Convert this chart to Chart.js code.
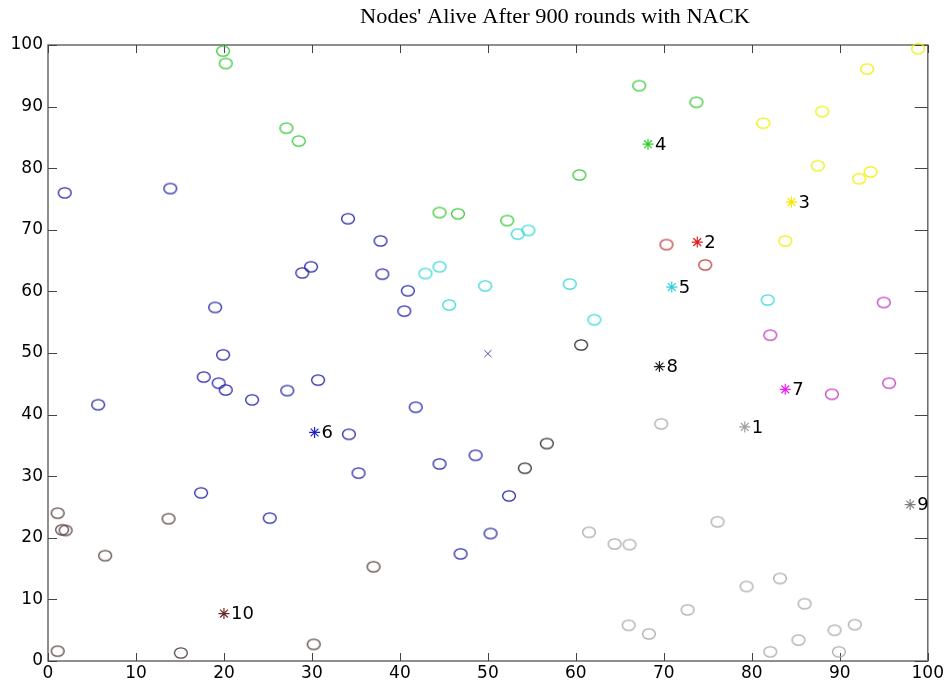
<!DOCTYPE html>
<html><head><meta charset="utf-8">
<script src="https://cdn.jsdelivr.net/npm/chart.js@4.4.0/dist/chart.umd.min.js"></script>
<style>html,body{margin:0;padding:0;background:#fff;}canvas{display:block;}</style>
</head><body>
<canvas id="c" width="946" height="689"></canvas>
<script>
// ---------------- data ----------------
const titleText = "Nodes' Alive After 900 rounds with NACK";
const tickValues = [0, 10, 20, 30, 40, 50, 60, 70, 80, 90, 100];

const cluster1Nodes = [[69.7,38.5],[61.5,20.9],[64.4,19.0],[66.1,18.9],[76.1,22.6],[66.0,5.8],[68.3,4.4],[72.7,8.3],[79.4,12.1],[83.2,13.4],[86.0,9.3],[82.1,1.5],[85.3,3.4],[89.4,5.0],[91.7,5.9],[89.9,1.5]];
const cluster2Nodes = [[70.3,67.6],[74.7,64.3]];
const cluster3Nodes = [[81.3,87.3],[88.0,89.2],[93.1,96.1],[98.9,99.4],[87.5,80.4],[92.2,78.3],[93.5,79.4],[83.8,68.2]];
const cluster4Nodes = [[19.9,99.0],[20.2,97.0],[27.1,86.5],[28.5,84.4],[60.4,78.9],[44.5,72.8],[46.6,72.6],[52.2,71.5],[67.2,93.4],[73.7,90.7]];
const cluster5Nodes = [[53.4,69.3],[54.6,69.9],[42.9,62.9],[44.5,64.0],[45.6,57.8],[49.7,60.9],[59.3,61.2],[62.1,55.4],[81.8,58.6]];
const cluster6Nodes = [[1.9,76.0],[13.9,76.7],[34.1,71.8],[37.8,68.2],[38.0,62.8],[28.9,63.0],[29.9,64.0],[40.9,60.1],[40.5,56.8],[5.7,41.6],[19.0,57.4],[19.9,49.7],[17.7,46.1],[19.4,45.1],[20.2,44.0],[23.2,42.4],[27.2,43.9],[30.7,45.6],[41.8,41.2],[34.2,36.8],[48.6,33.4],[35.3,30.5],[44.5,32.0],[52.4,26.8],[50.3,20.7],[46.9,17.4],[17.4,27.3],[25.2,23.2]];
const cluster7Nodes = [[95.0,58.2],[82.1,52.9],[89.1,43.3],[95.6,45.1]];
const cluster8Nodes = [[60.6,51.3],[56.7,35.3],[54.2,31.3]];
const cluster10Nodes = [[1.1,24.0],[1.6,21.3],[2.0,21.2],[6.5,17.1],[13.7,23.1],[1.1,1.6],[15.1,1.3],[30.2,2.7],[37.0,15.3]];

const headLabels = ['1','2','3','4','5','6','7','8','9','10'];
const headX = [79.2, 73.8, 84.5, 68.2, 70.9, 30.3, 83.8, 69.5, 98.0, 20.0];
const headY = [38.0, 68.0, 74.5, 83.9, 60.7, 37.1, 44.1, 47.8, 25.4, 7.7];
const sinkX = [50.0];
const sinkY = [49.9];

// ---------------- styles ----------------
const nodeSets = [cluster1Nodes, cluster2Nodes, cluster3Nodes, cluster4Nodes, cluster5Nodes, cluster6Nodes, cluster7Nodes, cluster8Nodes, cluster10Nodes];
const nodeColors = ['#a8a8a8','#c03838','#eeee00','#33c833','#33d8d8','#2424a8','#c038c0','#2a2a2a','#584040'];
const headColors = ['#a0a0a0','#e02020','#f4e800','#30d030','#30d0e0','#2020c8','#ee22ee','#202020','#808080','#702828'];

function ellipseMarker(color){
  const c = document.createElement('canvas');
  c.width = 16; c.height = 14;
  const g = c.getContext('2d');
  g.strokeStyle = color; g.lineWidth = 1.3;
  g.beginPath(); g.ellipse(8, 7, 6.4, 5.2, 0, 0, Math.PI*2); g.stroke();
  return c;
}

const datasets = nodeSets.map((arr, i) => ({
  data: arr.map(p => ({x: p[0], y: p[1]})),
  pointStyle: ellipseMarker(nodeColors[i]),
  borderColor: nodeColors[i],
  showLine: false, clip: false
}));
headX.forEach((x, i) => {
  datasets.push({
    data: [{x: x, y: headY[i]}],
    pointStyle: 'star', pointRadius: 5.5, borderWidth: 1.2,
    borderColor: headColors[i], backgroundColor: headColors[i],
    showLine: false, clip: false
  });
});
datasets.push({
  data: sinkX.map((x, i) => ({x: x, y: sinkY[i]})),
  pointStyle: 'crossRot', pointRadius: 5, borderWidth: 1,
  borderColor: '#4848a8', showLine: false, clip: false
});

const boxPlugin = {
  id: 'box',
  beforeDatasetsDraw(chart){
    const {ctx, chartArea: a, scales: {x, y}} = chart;
    ctx.save();
    ctx.strokeStyle = '#6a6a6a'; ctx.lineWidth = 1.5;
    ctx.strokeRect(a.left, a.top, a.right - a.left, a.bottom - a.top);
    ctx.lineWidth = 1; ctx.strokeStyle = '#444';
    ctx.beginPath();
    tickValues.forEach(v => {
      const px = Math.round(x.getPixelForValue(v)) + 0.5;
      ctx.moveTo(px, a.bottom); ctx.lineTo(px, a.bottom - 8);
      ctx.moveTo(px, a.top); ctx.lineTo(px, a.top + 8);
      const py = Math.round(y.getPixelForValue(v)) + 0.5;
      ctx.moveTo(a.left, py); ctx.lineTo(a.left + 9, py);
      ctx.moveTo(a.right, py); ctx.lineTo(a.right - 13, py);
    });
    ctx.stroke();
    ctx.restore();
  },
  afterDatasetsDraw(chart){
    const {ctx, scales: {x, y}} = chart;
    ctx.save();
    ctx.fillStyle = '#000';
    ctx.font = '18px "DejaVu Sans"';
    ctx.textAlign = 'left'; ctx.textBaseline = 'middle';
    headLabels.forEach((t, i) => {
      ctx.fillText(t, x.getPixelForValue(headX[i]) + 7, y.getPixelForValue(headY[i]) + 1);
    });
    ctx.font = '20px "Liberation Serif"';
    ctx.textAlign = 'center'; ctx.textBaseline = 'alphabetic';
    ctx.translate(555, 23);
    ctx.scale(1.12, 1);
    ctx.fillText(titleText, 0, 0);
    ctx.restore();
  }
};

new Chart(document.getElementById('c'), {
  type: 'scatter',
  data: { datasets },
  options: {
    responsive: false, animation: false,
    layout: { padding: { top: 45, right: 18, left: 0, bottom: 0 } },
    plugins: { legend: { display: false }, tooltip: { enabled: false } },
    scales: {
      x: {
        type: 'linear', min: 0, max: 100,
        afterBuildTicks(s){ s.ticks = tickValues.map(v => ({value: v})); },
        ticks: { font: { family: 'DejaVu Sans', size: 17 }, color: '#000', padding: 2, maxRotation: 0 },
        grid: { drawOnChartArea: false, drawTicks: false },
        border: { display: false },
        afterFit(s){ s.height = 28; }
      },
      y: {
        type: 'linear', min: 0, max: 100,
        afterBuildTicks(s){ s.ticks = tickValues.map(v => ({value: v})); },
        ticks: { font: { family: 'DejaVu Sans', size: 17 }, color: '#000', padding: 5 },
        grid: { drawOnChartArea: false, drawTicks: false },
        border: { display: false },
        afterFit(s){ s.width = 48; }
      }
    }
  },
  plugins: [boxPlugin]
});
</script>
</body></html>
